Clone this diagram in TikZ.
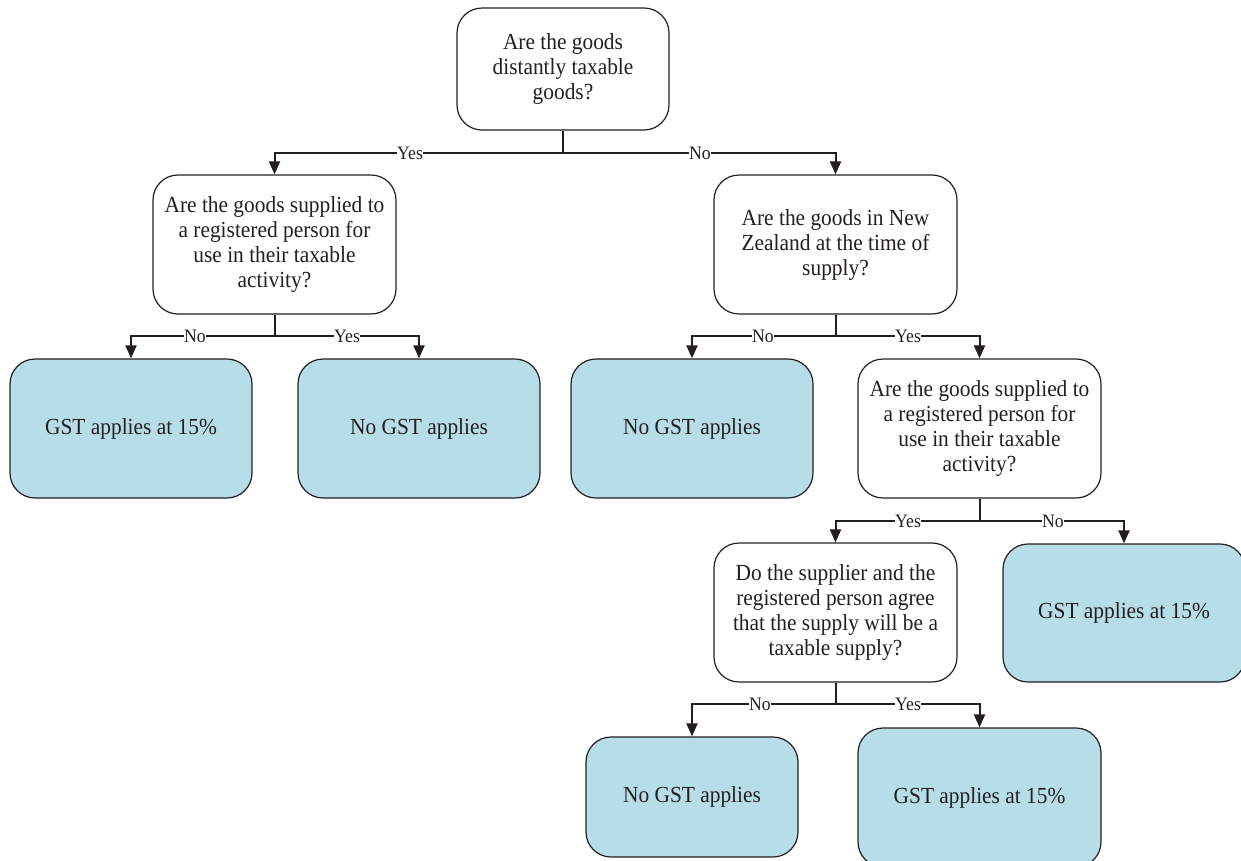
\documentclass[tikz,border=0pt]{standalone}
\usepackage{fontspec}
\setmainfont{Liberation Serif}[FakeStretch=0.93]
\usetikzlibrary{arrows.meta}
\definecolor{boxblue}{HTML}{B7DDE8}
\definecolor{inkc}{HTML}{231F20}
\begin{document}
\begin{tikzpicture}[x=1pt,y=-1pt,
  qbox/.style={draw=inkc, line width=1.2pt, rounded corners=25pt, fill=white,
    minimum width=243pt, minimum height=139pt, inner sep=0pt, align=center,
    text=inkc, font=\fontsize{23}{25}\selectfont},
  abox/.style={qbox, fill=boxblue},
  conn/.style={draw=inkc, line width=2pt},
  arr/.style={conn, -{Triangle[length=13pt,width=11pt]}},
  lbl/.style={fill=white, inner sep=0.5pt, text=inkc, font=\fontsize{19}{19}\selectfont}]
\useasboundingbox (0,0) rectangle (1241,860);

\node[qbox, minimum width=212pt, minimum height=122pt] (top) at (563,69)
  {Are the goods\\distantly taxable\\goods?};
\node[qbox] (q1) at (274.5,244.5)
  {Are the goods supplied to\\a registered person for\\use in their taxable\\activity?};
\node[qbox] (q2) at (835.5,244.5)
  {Are the goods in New\\Zealand at the time of\\supply?};
\node[abox, minimum width=242pt] (b1) at (131,428.5) {GST applies at 15\%};
\node[abox, minimum width=242pt] (b2) at (419,428.5) {No GST applies};
\node[abox, minimum width=242pt] (b3) at (692,428.5) {No GST applies};
\node[qbox] (q3) at (979.5,428.5)
  {Are the goods supplied to\\a registered person for\\use in their taxable\\activity?};
\node[qbox] (q4) at (835.5,612.5)
  {Do the supplier and the\\registered person agree\\that the supply will be a\\taxable supply?};
\node[abox, minimum width=242pt, minimum height=138pt] (b4) at (1124,613) {GST applies at 15\%};
\node[abox, minimum width=212pt, minimum height=120pt] (b5) at (692,797) {No GST applies};
\node[abox] (b6) at (979.5,797.5) {GST applies at 15\%};

\coordinate (j0) at (563,153);
\coordinate (j1) at (274.5,336);
\coordinate (j2) at (835.5,336);
\coordinate (j3) at (979.5,521);
\coordinate (j4) at (835.5,704);

\draw[conn] (top.south) -- (j0);
\draw[arr] (j0) -| node[lbl, pos=0.265] {Yes} (q1.north);
\draw[arr] (j0) -| node[lbl, pos=0.251] {No} (q2.north);

\draw[conn] (q1.south) -- (j1);
\draw[arr] (j1) -| node[lbl, pos=0.277] {No} (b1.north);
\draw[arr] (j1) -| node[lbl, pos=0.251] {Yes} (b2.north);

\draw[conn] (q2.south) -- (j2);
\draw[arr] (j2) -| node[lbl, pos=0.253] {No} (b3.north);
\draw[arr] (j2) -| node[lbl, pos=0.252] {Yes} (q3.north);

\draw[conn] (q3.south) -- (j3);
\draw[arr] (j3) -| node[lbl, pos=0.248] {Yes} (q4.north);
\draw[arr] (j3) -| node[lbl, pos=0.254] {No} (b4.north);

\draw[conn] (q4.south) -- (j4);
\draw[arr] (j4) -| node[lbl, pos=0.263] {No} (b5.north);
\draw[arr] (j4) -| node[lbl, pos=0.252] {Yes} (b6.north);
\end{tikzpicture}
\end{document}
